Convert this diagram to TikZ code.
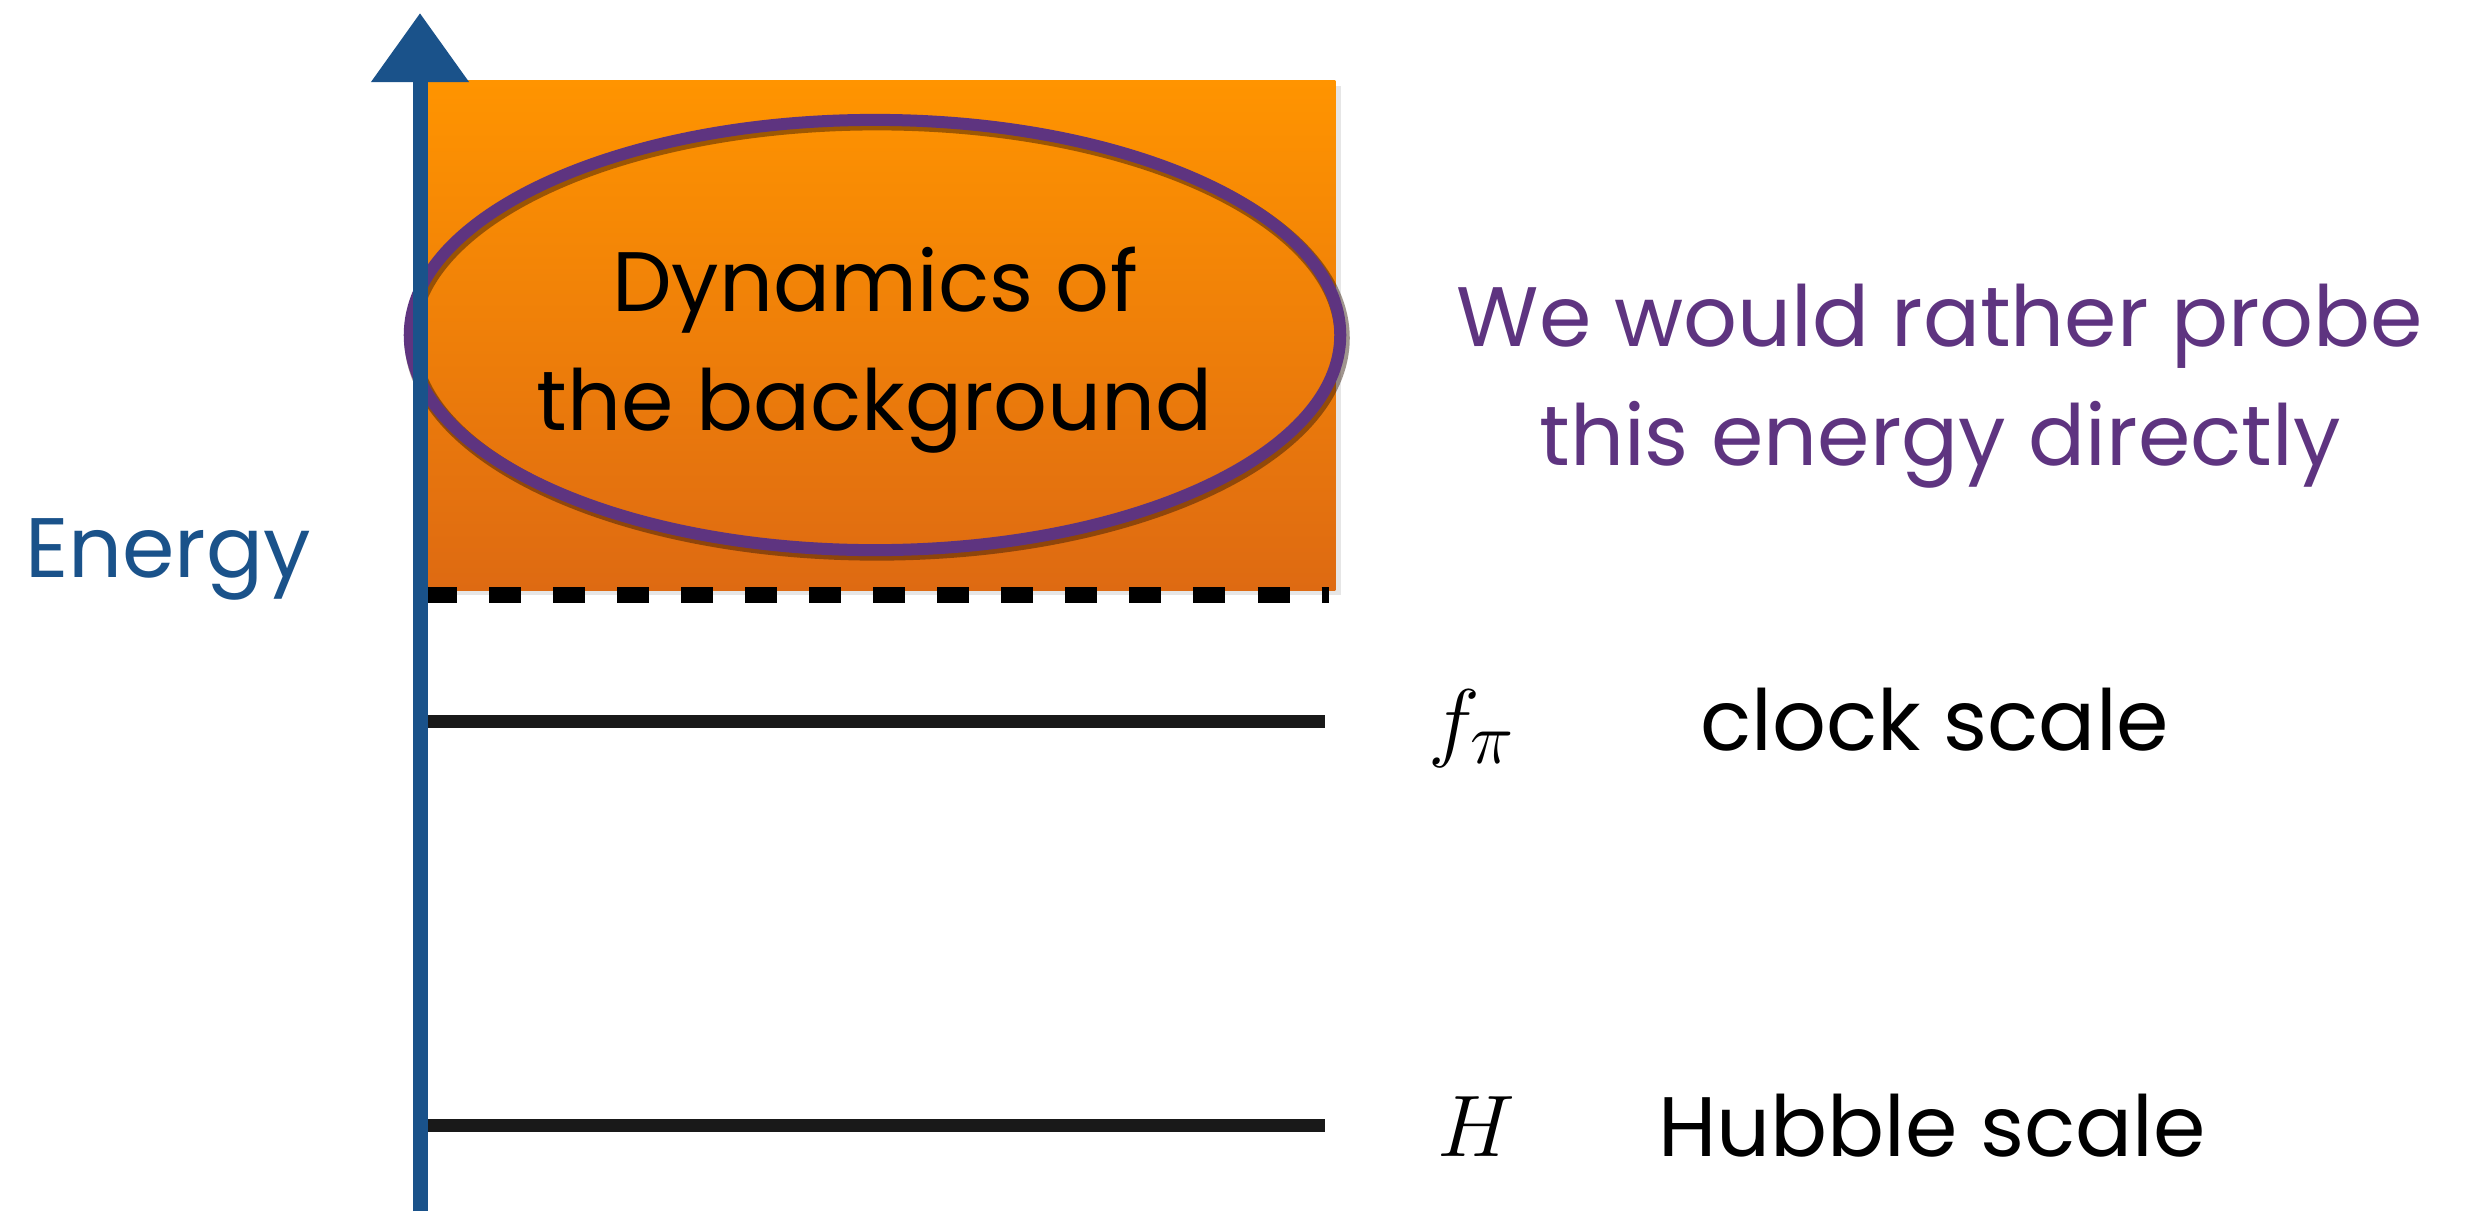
\documentclass[tikz,border=0pt]{standalone}
\usepackage{fontspec}
\setmainfont{Poppins}
\usetikzlibrary{arrows.meta,shapes.geometric,shadows}

\definecolor{axisblue}{RGB}{26,82,138}
\definecolor{probepurple}{RGB}{94,52,128}
\definecolor{bgtop}{RGB}{255,148,0}
\definecolor{bgbottom}{RGB}{222,106,18}

\tikzset{
    chalk/.style={font=\fontsize{24}{34}\selectfont},
    scaleline/.style={line width=0.13cm, black!90},
    bgbox/.style={rectangle, top color=bgtop, bottom color=bgbottom,
        minimum width=9.1cm, minimum height=5.09cm, inner sep=0pt,
        drop shadow={opacity=0.2, shadow xshift=1.5pt, shadow yshift=-1.5pt}},
    dynring/.style={ellipse, draw=probepurple, line width=0.12cm,
        minimum width=9.3cm, minimum height=4.3cm, inner sep=0pt}
}

\begin{document}
\begin{tikzpicture}[x=0.01cm, y=-0.01cm]
    \useasboundingbox (0,0) rectangle (2484,1211);

    % orange block and its ring
    \node[bgbox] (bg) at (880,335.5) {};
    \node[dynring, draw=black!80!bgbottom, opacity=0.45, line width=0.15cm] (dynshadow) at (877,338) {};
    \node[dynring] (dyn) at (875,335) {};
    \node[chalk, align=center] (dyntext) at (875,350) {Dynamics of\\the background};

    % dashed cut-off
    \coordinate (cut-left) at (425,595);
    \coordinate (cut-right) at (1329,595);
    \draw[line width=0.16cm, dash pattern=on 0.32cm off 0.32cm] (cut-left) -- (cut-right);

    % scale lines
    \coordinate (fpi-left) at (425,721);
    \coordinate (fpi-right) at (1325,721);
    \coordinate (hub-left) at (425,1125);
    \coordinate (hub-right) at (1325,1125);
    \draw[scaleline] (fpi-left) -- (fpi-right);
    \draw[scaleline] (hub-left) -- (hub-right);

    % energy axis
    \coordinate (axis-bottom) at (420,1211);
    \coordinate (axis-top) at (420,13);
    \draw[axisblue, line width=0.15cm, -{Triangle[width=0.94cm, length=0.69cm]}]
        (axis-bottom) -- (axis-top);
    \node[chalk, text=axisblue, anchor=base] (energy) at (168,577) {Energy};

    % labels on the right
    \node[chalk, text=probepurple, align=center] (probe) at (1940,386)
        {We would rather probe\\this energy directly};
    \node[font=\fontsize{30}{34}\selectfont, anchor=base] (fpi) at (1472,750) {$f_\pi$};
    \node[chalk, anchor=base west] (clock) at (1688,750) {clock scale};
    \node[font=\fontsize{30}{34}\selectfont, anchor=base] (hub) at (1476,1156) {$H$};
    \node[chalk, anchor=base west] (hubble) at (1646,1156) {Hubble scale};
\end{tikzpicture}
\end{document}
